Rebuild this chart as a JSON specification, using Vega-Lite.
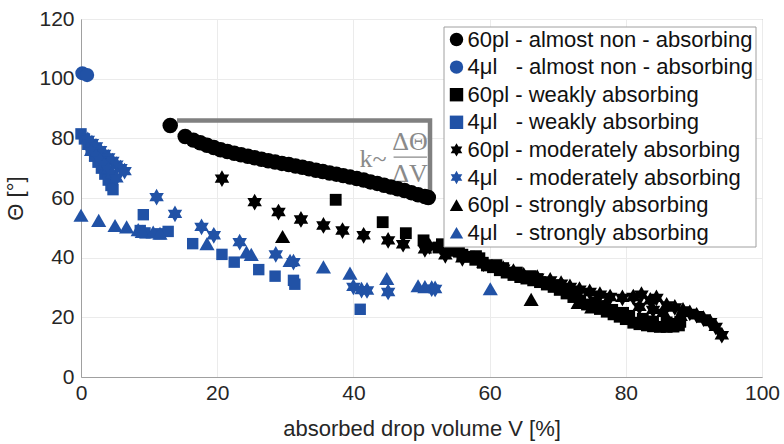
{
"$schema": "https://vega.github.io/schema/vega-lite/v6.json",
"width": 681, "height": 358,
"autosize": {"type": "none"},
"padding": {"left": 81, "top": 19, "right": 22, "bottom": 67},
"background": "white",
"config": {
 "font": "Liberation Sans",
 "view": {"stroke": "#a0a0a0", "strokeWidth": 1},
 "axis": {"domainColor": "#a0a0a0", "gridColor": "#ebebeb", "ticks": false, "labelFlush": false, "labelFontSize": 21, "labelColor": "#262626", "titleFontSize": 22, "titleFontWeight": "normal", "titleColor": "#262626", "labelFont": "Liberation Sans", "titleFont": "Liberation Sans"}
},
"datasets": {
 "names": [
  {"s": "A", "name": "60pl - almost non - absorbing"},
  {"s": "B", "name": "4μl\u00a0\u00a0 - almost non - absorbing"},
  {"s": "C", "name": "60pl - weakly absorbing"},
  {"s": "D", "name": "4μl\u00a0\u00a0 - weakly absorbing"},
  {"s": "E", "name": "60pl - moderately absorbing"},
  {"s": "F", "name": "4μl\u00a0\u00a0 - moderately absorbing"},
  {"s": "G", "name": "60pl - strongly absorbing"},
  {"s": "H", "name": "4μl\u00a0\u00a0 - strongly absorbing"}
 ],
 "pts": [
  {"s":"A","x":13.1,"y":84.3},{"s":"A","x":15.3,"y":80.6},{"s":"A","x":16.5,"y":79.4},{"s":"A","x":17.5,"y":78.5},{"s":"A","x":18.5,"y":77.7},{"s":"A","x":19.5,"y":76.9},{"s":"A","x":20.5,"y":76.2},{"s":"A","x":21.5,"y":75.6},{"s":"A","x":22.5,"y":75.0},{"s":"A","x":23.5,"y":74.5},{"s":"A","x":24.5,"y":74.0},{"s":"A","x":25.5,"y":73.5},{"s":"A","x":26.5,"y":73.0},{"s":"A","x":27.5,"y":72.5},{"s":"A","x":28.5,"y":72.1},{"s":"A","x":29.5,"y":71.6},{"s":"A","x":30.5,"y":71.2},{"s":"A","x":31.5,"y":70.7},{"s":"A","x":32.5,"y":70.3},{"s":"A","x":33.5,"y":69.8},{"s":"A","x":34.5,"y":69.3},{"s":"A","x":35.5,"y":68.9},{"s":"A","x":36.5,"y":68.4},{"s":"A","x":37.5,"y":68.0},{"s":"A","x":38.5,"y":67.5},{"s":"A","x":39.5,"y":67.0},{"s":"A","x":40.5,"y":66.5},{"s":"A","x":41.5,"y":66.0},{"s":"A","x":42.5,"y":65.4},{"s":"A","x":43.5,"y":64.9},{"s":"A","x":44.5,"y":64.3},{"s":"A","x":45.5,"y":63.7},{"s":"A","x":46.5,"y":63.1},{"s":"A","x":47.5,"y":62.5},{"s":"A","x":48.5,"y":61.8},{"s":"A","x":49.5,"y":61.1},{"s":"A","x":50.5,"y":60.5},{"s":"A","x":51.0,"y":60.2},
  {"s":"B","x":0.2,"y":101.8},{"s":"B","x":0.9,"y":101.2},
  {"s":"C","x":37.4,"y":59.4},{"s":"C","x":44.3,"y":51.9},{"s":"C","x":47.7,"y":48.2},{"s":"C","x":50.3,"y":45.8},{"s":"C","x":52.5,"y":43.4},{"s":"C","x":53.5,"y":43.0},{"s":"C","x":54.7,"y":42.3},{"s":"C","x":56.0,"y":41.0},{"s":"C","x":57.0,"y":40.3},{"s":"C","x":57.9,"y":39.3},{"s":"C","x":59.0,"y":38.3},{"s":"C","x":59.6,"y":37.4},{"s":"C","x":60.5,"y":36.8},{"s":"C","x":61.5,"y":35.8},{"s":"C","x":62.5,"y":35.0},{"s":"C","x":63.5,"y":34.2},{"s":"C","x":64.5,"y":33.5},{"s":"C","x":65.4,"y":33.0},{"s":"C","x":66.4,"y":32.4},{"s":"C","x":67.4,"y":31.8},{"s":"C","x":68.4,"y":31.0},{"s":"C","x":69.4,"y":30.2},{"s":"C","x":70.3,"y":29.2},{"s":"C","x":71.3,"y":28.0},{"s":"C","x":72.3,"y":26.8},{"s":"C","x":73.3,"y":25.5},{"s":"C","x":74.3,"y":24.3},{"s":"C","x":75.2,"y":23.6},{"s":"C","x":76.2,"y":22.8},{"s":"C","x":77.2,"y":21.9},{"s":"C","x":78.2,"y":21.0},{"s":"C","x":79.1,"y":20.2},{"s":"C","x":80.0,"y":19.4},{"s":"C","x":81.1,"y":18.2},{"s":"C","x":82.0,"y":17.7},{"s":"C","x":83.1,"y":17.3},{"s":"C","x":84.0,"y":17.0},{"s":"C","x":85.0,"y":16.8},{"s":"C","x":86.0,"y":16.8},{"s":"C","x":87.0,"y":16.9},{"s":"C","x":87.8,"y":17.3},{"s":"C","x":84.0,"y":18.5},{"s":"C","x":86.0,"y":18.3},{"s":"C","x":82.5,"y":19.5},{"s":"C","x":80.5,"y":20.5},{"s":"C","x":78.0,"y":22.5},{"s":"C","x":75.5,"y":25.0},{"s":"C","x":58.0,"y":40.5},{"s":"C","x":62.0,"y":36.5},{"s":"C","x":66.0,"y":33.8},{"s":"C","x":70.0,"y":30.8},{"s":"C","x":53.0,"y":44.5},{"s":"C","x":55.5,"y":42.0},{"s":"C","x":58.5,"y":39.8},{"s":"C","x":61.0,"y":37.5},{"s":"C","x":64.0,"y":35.0},{"s":"C","x":67.0,"y":32.8},{"s":"C","x":72.8,"y":28.2},{"s":"C","x":76.8,"y":23.8},{"s":"C","x":79.6,"y":21.5},{"s":"C","x":83.5,"y":18.6},{"s":"C","x":86.5,"y":17.8},{"s":"C","x":88.0,"y":18.5},
  {"s":"D","x":0.0,"y":81.5},{"s":"D","x":0.5,"y":79.8},{"s":"D","x":1.0,"y":78.0},{"s":"D","x":1.5,"y":76.0},{"s":"D","x":2.0,"y":74.0},{"s":"D","x":2.5,"y":72.0},{"s":"D","x":3.0,"y":70.0},{"s":"D","x":3.5,"y":68.0},{"s":"D","x":4.0,"y":66.0},{"s":"D","x":4.4,"y":64.2},{"s":"D","x":4.7,"y":62.8},{"s":"D","x":9.15,"y":54.4},{"s":"D","x":8.7,"y":49.1},{"s":"D","x":9.4,"y":48.3},{"s":"D","x":11.6,"y":48.0},{"s":"D","x":12.8,"y":48.8},{"s":"D","x":16.4,"y":44.7},{"s":"D","x":20.7,"y":41.1},{"s":"D","x":22.5,"y":38.5},{"s":"D","x":26.1,"y":36.0},{"s":"D","x":28.5,"y":33.8},{"s":"D","x":31.2,"y":32.4},{"s":"D","x":31.4,"y":31.1},{"s":"D","x":41.0,"y":22.7},
  {"s":"E","x":20.7,"y":66.5},{"s":"E","x":25.5,"y":58.6},{"s":"E","x":29.0,"y":55.3},{"s":"E","x":32.3,"y":52.8},{"s":"E","x":35.6,"y":50.8},{"s":"E","x":38.4,"y":49.1},{"s":"E","x":41.5,"y":47.5},{"s":"E","x":45.1,"y":45.8},{"s":"E","x":47.3,"y":44.5},{"s":"E","x":50.5,"y":42.8},{"s":"E","x":51.2,"y":43.8},{"s":"E","x":53.5,"y":40.8},{"s":"E","x":56.0,"y":39.8},{"s":"E","x":59.1,"y":38.0},{"s":"E","x":62.0,"y":36.3},{"s":"E","x":63.5,"y":35.3},{"s":"E","x":65.0,"y":34.1},{"s":"E","x":67.0,"y":33.3},{"s":"E","x":68.9,"y":32.4},{"s":"E","x":70.5,"y":31.3},{"s":"E","x":71.8,"y":30.2},{"s":"E","x":73.2,"y":29.3},{"s":"E","x":74.7,"y":28.5},{"s":"E","x":76.2,"y":27.6},{"s":"E","x":77.7,"y":26.8},{"s":"E","x":79.5,"y":26.5},{"s":"E","x":81.1,"y":26.8},{"s":"E","x":82.3,"y":27.6},{"s":"E","x":83.6,"y":25.7},{"s":"E","x":84.5,"y":26.5},{"s":"E","x":86.0,"y":24.0},{"s":"E","x":87.2,"y":23.3},{"s":"E","x":88.4,"y":22.3},{"s":"E","x":89.4,"y":21.5},{"s":"E","x":90.4,"y":20.7},{"s":"E","x":91.4,"y":19.6},{"s":"E","x":92.4,"y":18.4},{"s":"E","x":93.2,"y":16.8},{"s":"E","x":94.1,"y":14.0},{"s":"E","x":82.0,"y":23.5},{"s":"E","x":84.0,"y":22.5},{"s":"E","x":85.5,"y":21.5},
  {"s":"F","x":1.0,"y":79.5},{"s":"F","x":1.6,"y":78.4},{"s":"F","x":2.2,"y":77.3},{"s":"F","x":2.8,"y":76.0},{"s":"F","x":3.4,"y":74.8},{"s":"F","x":4.0,"y":73.6},{"s":"F","x":4.6,"y":72.4},{"s":"F","x":5.2,"y":71.2},{"s":"F","x":5.8,"y":70.0},{"s":"F","x":6.4,"y":69.0},{"s":"F","x":1.5,"y":75.5},{"s":"F","x":2.2,"y":74.0},{"s":"F","x":2.8,"y":72.5},{"s":"F","x":3.4,"y":71.0},{"s":"F","x":4.0,"y":69.5},{"s":"F","x":4.6,"y":68.0},{"s":"F","x":5.2,"y":66.6},{"s":"F","x":11.1,"y":60.3},{"s":"F","x":13.8,"y":54.7},{"s":"F","x":17.7,"y":50.3},{"s":"F","x":19.5,"y":47.5},{"s":"F","x":23.3,"y":45.2},{"s":"F","x":28.6,"y":41.1},{"s":"F","x":31.2,"y":38.5},{"s":"F","x":40.0,"y":30.2},{"s":"F","x":41.2,"y":29.1},{"s":"F","x":42.0,"y":29.0},{"s":"F","x":45.1,"y":28.5},{"s":"F","x":51.5,"y":29.6},{"s":"F","x":52.0,"y":29.5},
  {"s":"G","x":29.6,"y":47.1},{"s":"G","x":66.1,"y":26.0},{"s":"G","x":73.0,"y":25.0},{"s":"G","x":75.0,"y":23.5},{"s":"G","x":84.0,"y":19.0},{"s":"G","x":88.0,"y":21.0},
  {"s":"H","x":0.0,"y":54.2},{"s":"H","x":2.6,"y":52.5},{"s":"H","x":5.0,"y":50.8},{"s":"H","x":6.7,"y":50.3},{"s":"H","x":8.4,"y":49.4},{"s":"H","x":9.0,"y":48.8},{"s":"H","x":10.6,"y":48.6},{"s":"H","x":11.6,"y":48.2},{"s":"H","x":18.5,"y":44.7},{"s":"H","x":24.3,"y":41.9},{"s":"H","x":25.0,"y":41.1},{"s":"H","x":30.7,"y":39.1},{"s":"H","x":35.6,"y":36.9},{"s":"H","x":39.5,"y":34.8},{"s":"H","x":44.9,"y":33.0},{"s":"H","x":49.5,"y":30.6},{"s":"H","x":50.5,"y":30.3},{"s":"H","x":60.1,"y":29.6}
 ],
 "bracket": [{"i":1,"x":14.1,"y":86},{"i":2,"x":51.25,"y":86},{"i":3,"x":51.25,"y":60}],
 "frac": [{"x":45.9,"x2":50.8,"y":73.7}],
 "ann": [{"t":"k~","x":42.9,"y":73.2},{"t":"ΔΘ","x":48.3,"y":78.9},{"t":"ΔV","x":48.3,"y":67.9}]
},
"encoding": {
 "x": {"field": "x", "type": "quantitative", "scale": {"domain": [0, 100], "nice": false, "zero": false}, "axis": {"values": [0,20,40,60,80,100], "labelPadding": 5, "titlePadding": 15, "title": "absorbed drop volume V [%]"}},
 "y": {"field": "y", "type": "quantitative", "scale": {"domain": [0, 120], "nice": false}, "axis": {"values": [0,20,40,60,80,100,120], "labelPadding": 7, "titlePadding": 11, "title": "Θ [°]"}}
},
"layer": [
 {"data": {"name": "bracket"}, "mark": {"type": "line", "color": "#808080", "strokeWidth": 4.5, "strokeJoin": "miter", "strokeCap": "butt"}, "encoding": {"order": {"field": "i", "type": "quantitative"}}},
 {"data": {"name": "frac"}, "mark": {"type": "rule", "color": "#8a8a8a", "strokeWidth": 1.3}, "encoding": {"x2": {"field": "x2"}}},
 {"data": {"name": "ann"}, "mark": {"type": "text", "font": "Liberation Serif", "fontSize": 26, "color": "#8a8a8a", "align": "center", "baseline": "middle"}, "encoding": {"text": {"field": "t"}}},
 {"data": {"name": "pts"},
  "transform": [{"lookup": "s", "from": {"data": {"name": "names"}, "key": "s", "fields": ["name"]}}],
  "mark": {"type": "point", "filled": true, "opacity": 1, "strokeWidth": 0},
  "encoding": {
   "color": {"field": "name", "type": "nominal",
     "scale": {"domain": ["60pl - almost non - absorbing","4μl\u00a0\u00a0 - almost non - absorbing","60pl - weakly absorbing","4μl\u00a0\u00a0 - weakly absorbing","60pl - moderately absorbing","4μl\u00a0\u00a0 - moderately absorbing","60pl - strongly absorbing","4μl\u00a0\u00a0 - strongly absorbing"],
               "range": ["#000000","#2152a6","#000000","#2152a6","#000000","#2152a6","#000000","#2152a6"]},
     "legend": {"title": null, "orient": "none", "legendX": 362.5, "legendY": 7.5, "padding": 2, "rowPadding": 5.6, "labelFontSize": 22, "labelFont": "Liberation Sans", "labelColor": "#111111", "symbolSize": 180, "labelOffset": 0, "strokeColor": "#a0a0a0", "fillColor": "white", "symbolStrokeWidth": 0, "labelLimit": 400}},
   "shape": {"field": "name", "type": "nominal",
     "scale": {"domain": ["60pl - almost non - absorbing","4μl\u00a0\u00a0 - almost non - absorbing","60pl - weakly absorbing","4μl\u00a0\u00a0 - weakly absorbing","60pl - moderately absorbing","4μl\u00a0\u00a0 - moderately absorbing","60pl - strongly absorbing","4μl\u00a0\u00a0 - strongly absorbing"],
               "range": ["circle","circle","square","square","M0,-1L0.289,-0.5L0.866,-0.5L0.577,0L0.866,0.5L0.289,0.5L0,1L-0.289,0.5L-0.866,0.5L-0.577,0L-0.866,-0.5L-0.289,-0.5Z","M0,-1L0.289,-0.5L0.866,-0.5L0.577,0L0.866,0.5L0.289,0.5L0,1L-0.289,0.5L-0.866,0.5L-0.577,0L-0.866,-0.5L-0.289,-0.5Z","triangle-up","triangle-up"]},
     "legend": {"title": null, "orient": "none", "legendX": 362.5, "legendY": 7.5, "padding": 2, "rowPadding": 5.6, "labelFontSize": 22, "labelFont": "Liberation Sans", "labelColor": "#111111", "symbolSize": 180, "labelOffset": 0, "strokeColor": "#a0a0a0", "fillColor": "white", "symbolStrokeWidth": 0, "labelLimit": 400}},
   "size": {"field": "s", "type": "nominal", "scale": {"type": "ordinal", "domain": ["A","B","C","D","E","F","G","H"], "range": [240,200,140,130,280,280,230,230]}, "legend": null}
  }}
]
}
